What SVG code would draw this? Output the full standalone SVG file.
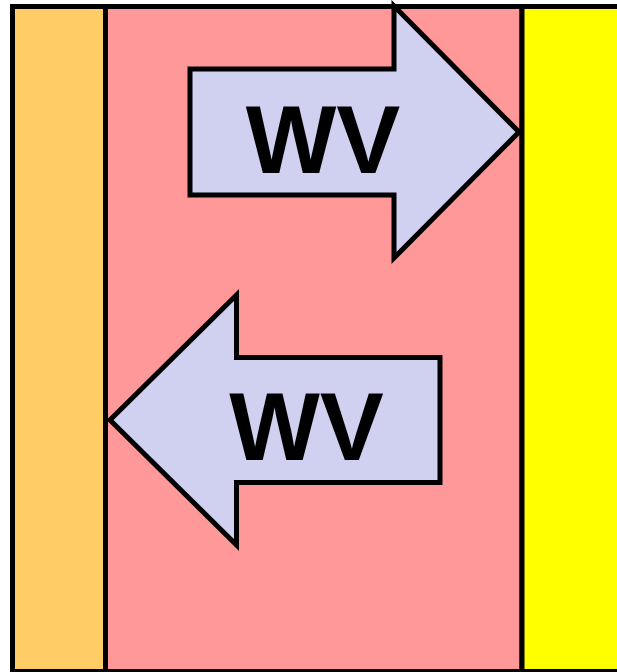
<svg xmlns="http://www.w3.org/2000/svg" width="617" height="672" viewBox="0 0 617 672">
  <style>
    .zone { stroke: #000; stroke-width: 5; }
    .arrow { fill: #d0d0f0; stroke: #000; stroke-width: 5; stroke-linejoin: miter; stroke-miterlimit: 10; }
    .lbl { font-family: "Liberation Sans", Arial, sans-serif; font-weight: bold; font-size: 96px; fill: #000; text-anchor: middle; }
  </style>
  <rect width="617" height="672" fill="#ffffff"/>
  <g id="zone-left">
    <rect class="zone" x="12.5" y="6.5" width="93" height="665" fill="#ffcc66"/>
  </g>
  <g id="zone-middle">
    <rect class="zone" x="105.5" y="6.5" width="416.5" height="665" fill="#ff9999"/>
  </g>
  <g id="zone-right">
    <rect class="zone" x="522" y="6.5" width="100" height="665" fill="#ffff00"/>
  </g>
  <g id="arrow-right">
    <polygon class="arrow" points="190,69 394,69 394,6 519,132 394,258 394,195 190,195"/>
    <text class="lbl" x="323" y="173">WV</text>
  </g>
  <g id="arrow-left">
    <polygon class="arrow" points="440,357.5 236.5,357.5 236.5,295 110,420 236.5,545 236.5,482.5 440,482.5"/>
    <text class="lbl" x="306.5" y="460">WV</text>
  </g>
  <g id="connectors"></g>
</svg>
